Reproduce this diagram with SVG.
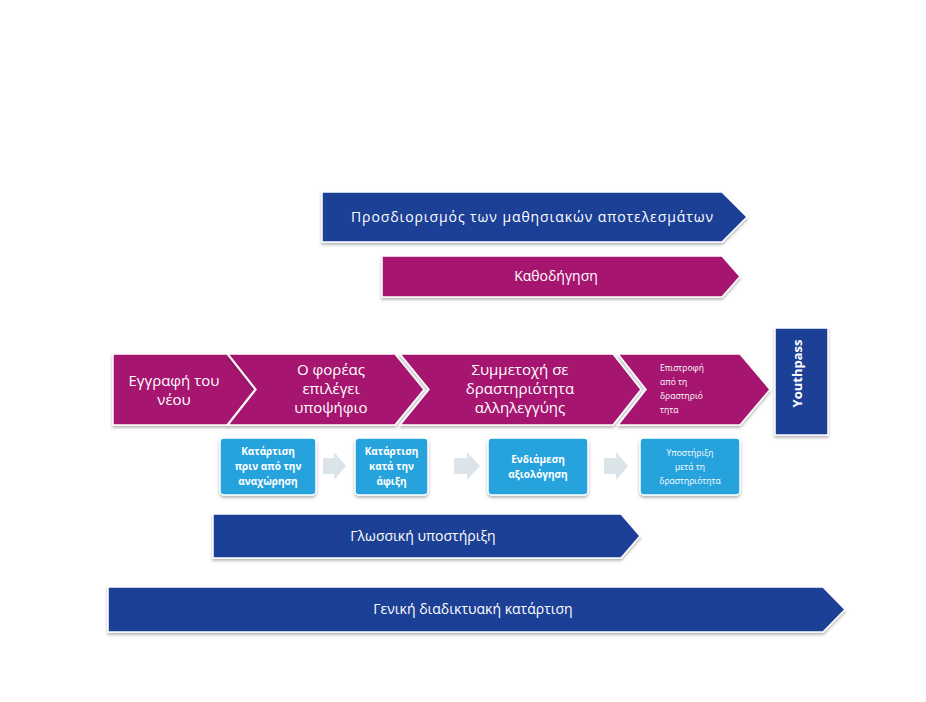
<svg xmlns="http://www.w3.org/2000/svg" width="926" height="702" viewBox="0 0 926 702">
<defs>
<filter id="sh" x="-10%" y="-20%" width="120%" height="150%">
<feDropShadow dx="0" dy="2" stdDeviation="1.5" flood-color="#000" flood-opacity="0.3"/>
</filter>
<style>
.blue{fill:#1e3f96;stroke:#ffffff;stroke-width:1.5;filter:url(#sh)}
.mag{fill:#a6146f;stroke:#ffffff;stroke-width:1.5;filter:url(#sh)}
.lb{fill:#25a3dd;stroke:#ffffff;stroke-width:1.5;filter:url(#sh)}
.ga{fill:#dbe4e8}
text{font-family:"Open Sans","Liberation Sans",sans-serif;fill:#ffffff;text-anchor:middle}
.t13{font-size:14px}
.t14{font-size:15px}
.b10{font-size:10px;font-weight:bold}
.s9{font-size:8.5px}
</style>
</defs>
<rect width="926" height="702" fill="#ffffff"/>
<g id="connectors">
<polygon class="ga" points="323,458 334,458 334,452 346,466 334,480 334,474 323,474"/>
<polygon class="ga" points="454,458 467,458 467,452 480,466 467,480 467,474 454,474"/>
<polygon class="ga" points="604,458 616,458 616,452 628,466 616,480 616,474 604,474"/>
</g>
<g id="learning-outcomes">
<polygon class="blue" points="322,192 722,192 747,217 722,242 322,242"/>
<text class="t13" x="532" y="222" textLength="362">Προσδιορισμός των μαθησιακών αποτελεσμάτων</text>
</g>
<g id="mentoring">
<polygon class="mag" points="382,256 722,256 740,276.5 722,297 382,297"/>
<text class="t13" x="556" y="281">Καθοδήγηση</text>
</g>
<g id="registration">
<polygon class="mag" points="113,354 227,354 255,389.5 227,425 113,425"/>
<text class="t14" x="174" y="386">Εγγραφή του</text>
<text class="t14" x="174" y="405">νέου</text>
</g>
<g id="selection">
<polygon class="mag" points="228,354 395,354 424,389.5 395,425 228,425 256,389.5"/>
<text class="t14" x="331" y="375">Ο φορέας</text>
<text class="t14" x="331" y="394">επιλέγει</text>
<text class="t14" x="331" y="413">υποψήφιο</text>
</g>
<g id="participation">
<polygon class="mag" points="400,354 613,354 641,389.5 613,425 400,425 429,389.5"/>
<text class="t14" x="520" y="375">Συμμετοχή σε</text>
<text class="t14" x="520" y="394">δραστηριότητα</text>
<text class="t14" x="520" y="413">αλληλεγγύης</text>
</g>
<g id="return">
<polygon class="mag" points="618,354 740,354 770,389.5 740,425 618,425 646,389.5"/>
<text class="s9" x="660" y="371" style="text-anchor:start">Επιστροφή</text>
<text class="s9" x="660" y="385" style="text-anchor:start">από τη</text>
<text class="s9" x="660" y="399" style="text-anchor:start">δραστηριό</text>
<text class="s9" x="660" y="413" style="text-anchor:start">τητα</text>
</g>
<g id="youthpass">
<rect class="blue" x="775" y="328" width="53" height="107"/>
<text x="806" y="378" transform="rotate(-90 801.5 378)" style="font-size:13px;font-weight:bold">Youthpass</text>
</g>
<g id="pre-departure">
<rect class="lb" x="220" y="438" width="96" height="57" rx="4"/>
<text class="b10" x="268" y="455">Κατάρτιση</text>
<text class="b10" x="268" y="470">πριν από την</text>
<text class="b10" x="268" y="485">αναχώρηση</text>
</g>
<g id="on-arrival">
<rect class="lb" x="355" y="438" width="73" height="57" rx="4"/>
<text class="b10" x="391.5" y="455">Κατάρτιση</text>
<text class="b10" x="391.5" y="470">κατά την</text>
<text class="b10" x="391.5" y="485">άφιξη</text>
</g>
<g id="mid-term">
<rect class="lb" x="488" y="438" width="100" height="57" rx="4"/>
<text class="b10" x="538" y="463">Ενδιάμεση</text>
<text class="b10" x="538" y="478">αξιολόγηση</text>
</g>
<g id="post-support">
<rect class="lb" x="640" y="438" width="100" height="57" rx="4"/>
<text class="s9" x="690" y="456">Υποστήριξη</text>
<text class="s9" x="690" y="470">μετά τη</text>
<text class="s9" x="690" y="484">δραστηριότητα</text>
</g>
<g id="language-support">
<polygon class="blue" points="213,514 621,514 640,536 621,558 213,558"/>
<text class="t13" x="423" y="541">Γλωσσική υποστήριξη</text>
</g>
<g id="online-training">
<polygon class="blue" points="108,587 823,587 845,609.5 823,632 108,632"/>
<text class="t13" x="473" y="614">Γενική διαδικτυακή κατάρτιση</text>
</g>
</svg>
